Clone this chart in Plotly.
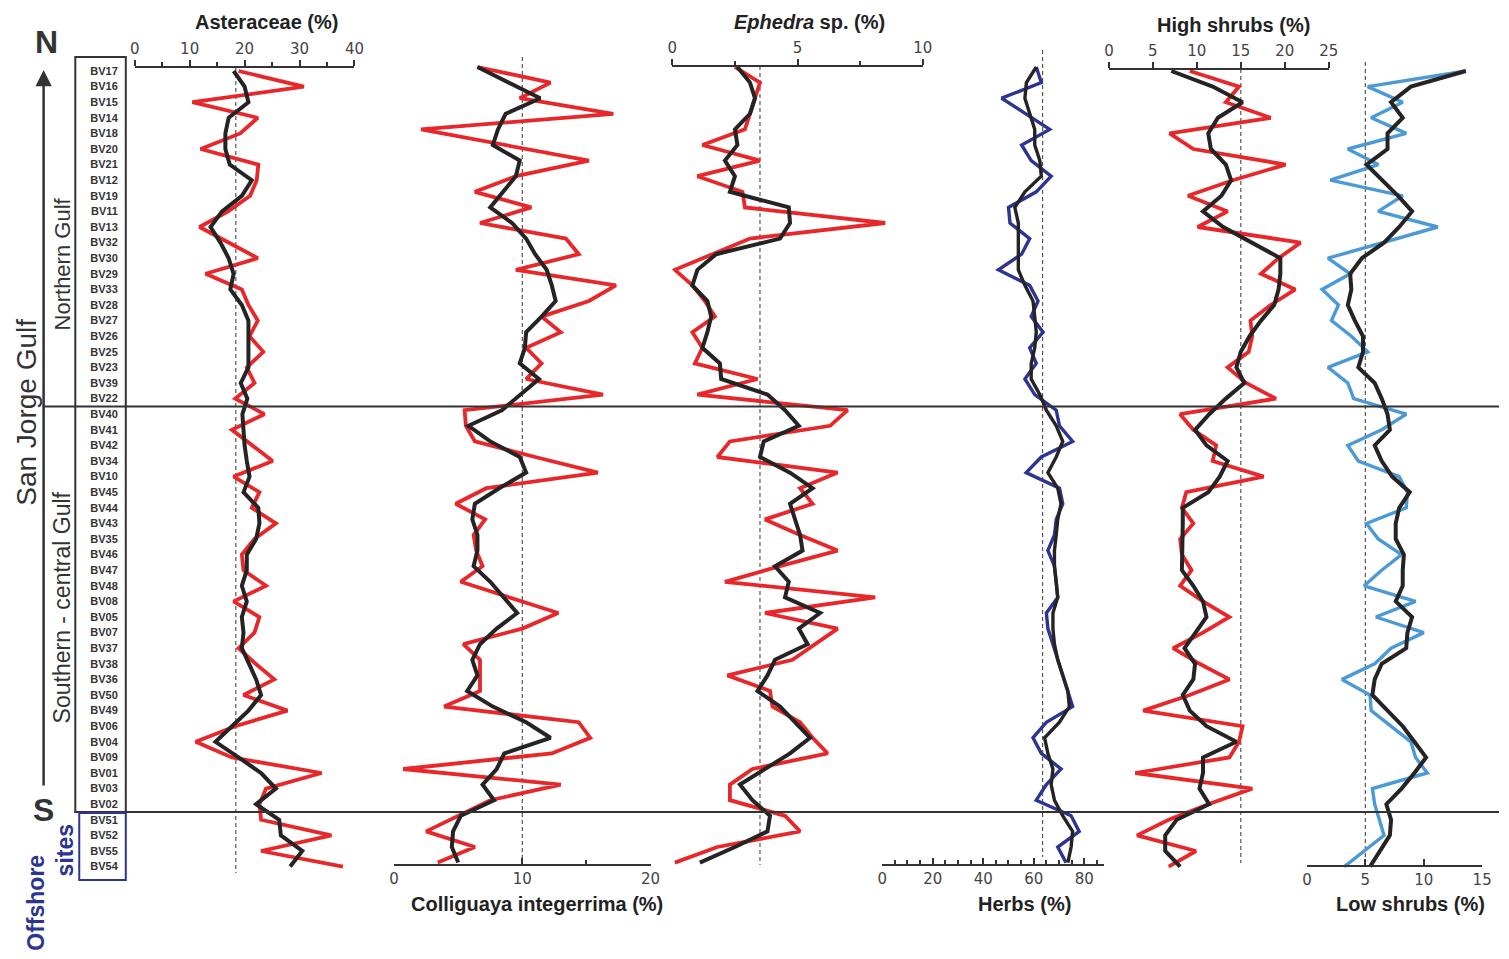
import plotly.graph_objects as go

W, H = 1509, 959

samples = ["BV17", "BV16", "BV15", "BV14", "BV18", "BV20", "BV21", "BV12", "BV19", "BV11",
           "BV13", "BV32", "BV30", "BV29", "BV33", "BV28", "BV27", "BV26", "BV25", "BV23",
           "BV39", "BV22", "BV40", "BV41", "BV42", "BV34", "BV10", "BV45", "BV44", "BV43",
           "BV35", "BV46", "BV47", "BV48", "BV08", "BV05", "BV07", "BV37", "BV38", "BV36",
           "BV50", "BV49", "BV06", "BV04", "BV09", "BV01", "BV03", "BV02", "BV51", "BV52",
           "BV55", "BV54"]

ast_raw = [18.9, 30.8, 10.5, 22.4, 19.2, 12.0, 22.5, 22.2, 21.0, 17.0, 11.8, 17.0, 22.4, 12.9, 19.5,
           20.7, 22.4, 20.9, 23.4, 20.4, 21.8, 18.3, 23.6, 17.7, 21.3, 25.1, 18.0, 22.7, 21.3, 25.7,
           21.8, 19.5, 19.8, 23.9, 18.0, 22.7, 21.8, 18.9, 22.0, 25.4, 19.8, 27.8, 18.3, 11.1, 17.7,
           34.0, 23.9, 22.7, 23.0, 35.8, 23.0, 37.9]
ast_smooth = [18.0, 20.0, 20.7, 17.1, 16.5, 16.5, 17.3, 21.3, 19.5, 15.9, 13.8, 15.6, 17.1, 18.0, 17.4,
              19.5, 20.7, 20.7, 20.7, 20.7, 19.3, 20.5, 19.6, 19.8, 20.0, 20.4, 20.9, 19.8, 22.5, 22.7,
              22.1, 20.4, 20.4, 19.5, 20.4, 19.5, 19.8, 19.5, 20.9, 22.1, 23.0, 20.7, 17.7, 14.7, 18.9,
              23.0, 25.7, 22.1, 26.3, 26.6, 30.5, 28.3]

col_raw = [6.5, 12.2, 9.8, 17.1, 2.1, 8.6, 15.2, 9.5, 6.3, 10.7, 6.7, 13.4, 14.4, 9.5, 17.3,
           15.2, 11.5, 13.0, 10.3, 11.5, 10.3, 16.3, 5.5, 5.6, 6.3, 11.0, 15.9, 7.2, 4.8, 7.1,
           6.2, 6.4, 6.9, 5.2, 9.0, 12.8, 10.0, 5.4, 6.7, 6.7, 6.7, 3.9, 14.4, 15.3, 12.3,
           0.7, 13.0, 7.5, 5.0, 2.5, 6.3, 3.4]
col_smooth = [6.5, 9.0, 11.4, 8.7, 8.1, 7.7, 9.8, 9.5, 8.5, 7.5, 9.2, 10.3, 11.0, 11.9, 12.3,
              12.6, 11.5, 10.3, 10.2, 9.8, 11.3, 9.8, 8.4, 5.8, 7.5, 9.8, 10.3, 8.2, 6.3, 6.1,
              6.5, 6.5, 6.2, 7.5, 8.6, 9.6, 8.0, 6.7, 6.1, 6.5, 5.7, 7.7, 10.3, 12.2, 8.6,
              8.0, 6.9, 7.8, 5.2, 4.6, 4.5, 5.0]

eph_raw = [2.5, 3.5, 3.3, 3.1, 2.9, 1.2, 3.5, 1.0, 2.8, 2.9, 8.5, 3.1, 1.6, 0.1, 0.8,
           1.3, 1.7, 0.8, 1.2, 0.9, 3.4, 1.0, 7.0, 6.3, 2.3, 1.8, 6.6, 5.1, 5.6, 3.7,
           5.1, 6.6, 4.3, 2.1, 8.1, 3.7, 6.6, 5.7, 4.8, 2.2, 3.9, 4.0, 5.1, 5.6, 6.2,
           3.2, 2.3, 2.3, 4.5, 5.1, 1.8, 0.1]
eph_smooth = [2.6, 3.1, 3.3, 3.1, 2.5, 2.6, 2.1, 2.5, 2.3, 4.65, 4.7, 4.3, 1.75, 1.0, 0.8,
              1.4, 1.55, 1.4, 1.2, 1.9, 1.95, 3.8, 4.5, 5.05, 3.65, 3.5, 4.7, 5.6, 4.7, 4.9,
              5.1, 5.2, 4.1, 4.65, 4.5, 5.9, 5.05, 5.4, 4.1, 3.8, 3.4, 4.3, 4.9, 5.5, 4.7,
              3.7, 2.7, 3.2, 3.9, 3.8, 2.5, 1.1]

herb_raw = [61.0, 63.0, 47.3, 57.0, 66.3, 55.2, 59.0, 66.9, 61.0, 50.0, 50.6, 58.4, 55.2, 46.0, 58.4,
            61.7, 59.0, 63.7, 58.4, 61.0, 56.5, 60.4, 68.9, 70.2, 75.4, 63.0, 57.0, 70.2, 71.5, 68.9,
            68.2, 65.6, 68.2, 68.9, 69.5, 65.0, 65.6, 67.6, 69.5, 71.5, 73.5, 75.4, 65.0, 59.7, 63.0,
            70.8, 65.0, 61.0, 74.8, 78.0, 69.5, 72.8]
herb_smooth = [61.0, 57.1, 56.5, 58.4, 60.4, 60.4, 62.4, 63.0, 56.5, 52.5, 53.9, 53.9, 53.9, 53.9, 56.5,
               59.7, 60.4, 61.0, 60.4, 59.0, 59.0, 62.4, 65.0, 68.9, 71.5, 68.9, 65.6, 69.5, 70.8, 69.5,
               68.9, 68.2, 68.2, 68.9, 69.5, 67.6, 67.6, 68.2, 69.5, 71.5, 73.5, 74.1, 70.2, 64.3, 65.6,
               67.6, 66.9, 68.2, 71.5, 75.4, 74.8, 73.5]

high_raw = [9.2, 14.8, 13.3, 18.4, 6.9, 9.6, 20.1, 14.1, 9.0, 13.5, 10.1, 21.8, 19.3, 17.3, 21.2,
            18.4, 16.1, 16.3, 15.9, 13.5, 15.6, 19.0, 8.1, 9.6, 12.2, 11.8, 17.6, 8.8, 8.3, 9.6,
            8.1, 8.3, 9.4, 8.1, 10.7, 13.7, 10.7, 7.3, 10.3, 13.7, 9.2, 3.9, 15.2, 14.8, 13.7,
            3.0, 16.3, 11.3, 6.8, 3.2, 9.9, 6.8]
high_smooth = [7.1, 11.8, 15.2, 12.4, 11.3, 11.6, 13.3, 13.9, 12.8, 10.7, 13.0, 16.3, 19.5, 19.5, 19.3,
               18.8, 17.3, 16.0, 15.0, 14.5, 15.4, 13.3, 11.4, 9.8, 11.1, 13.5, 12.6, 11.3, 8.4, 8.4,
               8.4, 8.3, 8.3, 9.6, 10.7, 11.1, 9.9, 8.6, 9.8, 9.6, 8.4, 9.2, 11.1, 14.5, 10.7,
               10.7, 10.3, 11.4, 7.7, 6.4, 6.4, 8.1]

low_raw = [13.6, 5.2, 8.2, 5.5, 8.5, 3.5, 6.1, 2.0, 8.2, 6.1, 11.2, 6.6, 1.8, 3.7, 1.3,
           2.7, 2.1, 3.8, 5.2, 1.8, 3.5, 4.0, 8.5, 6.4, 3.5, 4.4, 7.9, 8.6, 8.5, 5.1,
           6.1, 8.1, 6.4, 4.9, 9.3, 5.9, 10.0, 7.2, 5.8, 3.0, 5.4, 5.5, 7.2, 8.9, 9.3,
           10.3, 5.6, 5.8, 6.2, 6.6, 4.9, 3.2]
low_smooth = [13.6, 8.9, 7.2, 8.2, 6.9, 6.9, 5.1, 6.5, 7.8, 9.0, 7.9, 6.6, 4.7, 3.7, 3.8,
              3.5, 4.1, 4.8, 4.8, 4.4, 5.8, 6.4, 6.9, 7.1, 5.8, 6.4, 7.3, 8.8, 7.9, 7.6,
              7.6, 8.3, 8.2, 8.2, 7.6, 9.0, 8.6, 8.5, 6.4, 5.8, 5.6, 6.9, 8.2, 9.2, 10.2,
              9.2, 8.1, 6.8, 7.2, 7.1, 6.2, 5.4]

means = {"ast": 18.4, "col": 10.0, "eph": 3.5, "herb": 63.5, "high": 15.0, "low": 5.0}

RED = "#e8272b"
BLACK = "#262324"
NAVY = "#2c3591"
SKY = "#4b9ad6"
DARK = "#333333"


def px(x):
    return x / W


def py(y):
    return 1 - y / H


idx = list(range(len(samples)))

# row 0 sits at 71 px, 15.6 px per row; some panels sit a few px higher
ROW0, STEP = 71.0, 15.6


def yrange(shift):
    top = -(ROW0 + shift) / STEP
    bottom = (H - ROW0 - shift) / STEP
    return [bottom, top]


panels = [
    dict(key="ast", raw=ast_raw, sm=ast_smooth, color=RED, rng=[0, 40], x0=131, x1=353,
         side="top", ypos=67, ticks=dict(dtick=10), minor=dict(dtick=5), shift=0, dash=(67, 873)),
    dict(key="col", raw=col_raw, sm=col_smooth, color=RED, rng=[0, 20], x0=393, x1=652,
         side="bottom", ypos=865, ticks=dict(tickmode="array", tickvals=[0, 10, 20]),
         minor=dict(tickmode="array", tickvals=[15]), shift=-4, dash=(57, 865)),
    dict(key="eph", raw=eph_raw, sm=eph_smooth, color=RED, rng=[0, 10], x0=674, x1=927,
         side="top", ypos=66, ticks=dict(dtick=5), minor=dict(dtick=2.5), shift=-4, dash=(66, 865)),
    dict(key="herb", raw=herb_raw, sm=herb_smooth, color=NAVY, rng=[0, 87.8], x0=886, x1=1110,
         side="bottom", ypos=865, ticks=dict(dtick=20), minor=dict(dtick=5), shift=-4, dash=(50, 857)),
    dict(key="high", raw=high_raw, sm=high_smooth, color=RED, rng=[0, 25], x0=1115, x1=1337,
         side="top", ypos=69, ticks=dict(dtick=5), minor=None, shift=0, dash=(62, 863)),
    dict(key="low", raw=low_raw, sm=low_smooth, color=SKY, rng=[0, 15], x0=1315, x1=1492,
         side="bottom", ypos=866, ticks=dict(dtick=5), minor=None, shift=0, dash=(62, 866)),
]

TF = "Liberation Sans"
fig = go.Figure()
shapes = []
layout_axes = {}

for k, p in enumerate(panels, start=1):
    sfx = "" if k == 1 else str(k)
    xname, yname = "x" + sfx, "y" + sfx
    fig.add_trace(go.Scatter(x=p["raw"], y=idx, xaxis=xname, yaxis=yname, mode="lines",
                             line=dict(color=p["color"], width=3.8 if p["color"] == RED else 3.4),
                             hoverinfo="skip", showlegend=False))
    fig.add_trace(go.Scatter(x=p["sm"], y=idx, xaxis=xname, yaxis=yname, mode="lines",
                             line=dict(color=BLACK, width=4 if p["key"] != "herb" else 3.4),
                             hoverinfo="skip", showlegend=False))
    lo, hi = p["rng"]
    pad = (hi - lo) * 1e-4
    ax = dict(domain=[px(p["x0"]), px(p["x1"])], range=[lo - pad, hi + pad], anchor="free",
              position=py(p["ypos"]), side=p["side"], showline=True, linecolor=DARK, linewidth=2,
              ticks="outside" if p["side"] == "top" else "inside", ticklen=6, tickwidth=2,
              tickcolor=DARK, showgrid=False, zeroline=False,
              tickfont=dict(family="DejaVu Sans", size=15, color="#444"))
    ax.update(p["ticks"])
    if p["minor"]:
        m = dict(ticks="outside" if p["side"] == "top" else "inside", ticklen=4, tickwidth=1.5,
                 tickcolor=DARK, showgrid=False)
        m.update(p["minor"])
        ax["minor"] = m
    layout_axes["xaxis" + sfx] = ax
    yax = dict(domain=[0, 1], range=yrange(p["shift"]), anchor="free", position=0,
               showgrid=False, zeroline=False)
    if k == 1:
        yax.update(position=px(114), tickmode="array", tickvals=idx, ticktext=samples, ticks="",
                   showline=False, tickfont=dict(family=TF, size=11, color=DARK, weight="bold"))
    else:
        yax.update(visible=False)
    layout_axes["yaxis" + sfx] = yax
    shapes.append(dict(type="line", xref=xname, yref="paper", x0=means[p["key"]], x1=means[p["key"]],
                       y0=py(p["dash"][0]), y1=py(p["dash"][1]), layer="below",
                       line=dict(color="#555", width=1.2, dash="4px,3px")))

# group separators
shapes.append(dict(type="line", xref="paper", yref="y", x0=px(38), x1=1, y0=21.5, y1=21.5,
                   line=dict(color=DARK, width=2)))
shapes.append(dict(type="line", xref="paper", yref="y", x0=px(70), x1=1, y0=47.5, y1=47.5,
                   line=dict(color=DARK, width=2)))
# sample boxes
shapes.append(dict(type="rect", xref="paper", yref="paper", x0=px(71), x1=px(122),
                   y0=py(812), y1=py(57), line=dict(color=DARK, width=2)))
shapes.append(dict(type="rect", xref="paper", yref="paper", x0=px(75), x1=px(122),
                   y0=py(880), y1=py(813), line=dict(color=NAVY, width=2)))

annotations = [
    dict(text="<b>Asteraceae (%)</b>", x=px(264), y=py(22)),
    dict(text="<b><i>Ephedra</i> sp. (%)</b>", x=px(813), y=py(22)),
    dict(text="<b>High shrubs (%)</b>", x=px(1241), y=py(25)),
    dict(text="<b>Colliguaya integerrima (%)</b>", x=px(537), y=py(904)),
    dict(text="<b>Herbs (%)</b>", x=px(1030), y=py(904)),
    dict(text="<b>Low shrubs (%)</b>", x=px(1420), y=py(904)),
]
for a in annotations:
    a.update(xref="paper", yref="paper", showarrow=False, xanchor="center", yanchor="middle",
             font=dict(family=TF, size=20, color="#222"))

side_text = [
    dict(text="<b>N</b>", x=px(42), y=py(42), font=dict(family=TF, size=32, color=DARK)),
    dict(text="<b>S</b>", x=px(39), y=py(810), font=dict(family=TF, size=32, color=DARK)),
    dict(text="San Jorge Gulf", x=px(22), y=py(412), textangle=-90,
         font=dict(family=TF, size=28, color=DARK)),
    dict(text="Northern Gulf", x=px(58), y=py(264), textangle=-90,
         font=dict(family=TF, size=22, color=DARK)),
    dict(text="Southern - central Gulf", x=px(58), y=py(607), textangle=-90,
         font=dict(family=TF, size=23, color=DARK)),
    dict(text="<b>Offshore</b>", x=px(31), y=py(903), textangle=-90,
         font=dict(family=TF, size=23, color=NAVY)),
    dict(text="<b>sites</b>", x=px(61), y=py(850), textangle=-90,
         font=dict(family=TF, size=23, color=NAVY)),
]
for a in side_text:
    a.update(xref="paper", yref="paper", showarrow=False, xanchor="center", yanchor="middle")
annotations += side_text

annotations.append(dict(text="", xref="paper", yref="paper", x=px(39), y=py(70), ax=0, ay=717,
                        showarrow=True, arrowhead=2, arrowsize=1.3, arrowwidth=2.5,
                        arrowcolor=DARK, standoff=0))

fig.update_layout(
    width=W, height=H, margin=dict(l=0, r=0, t=0, b=0),
    paper_bgcolor="white", plot_bgcolor="rgba(0,0,0,0)", showlegend=False,
    shapes=shapes, annotations=annotations,
    **layout_axes,
)

fig.write_html("out.html", config={"displayModeBar": False},
               post_script="document.body.style.margin='0';document.body.style.overflow='hidden';"
                           "document.documentElement.style.overflow='hidden';")
